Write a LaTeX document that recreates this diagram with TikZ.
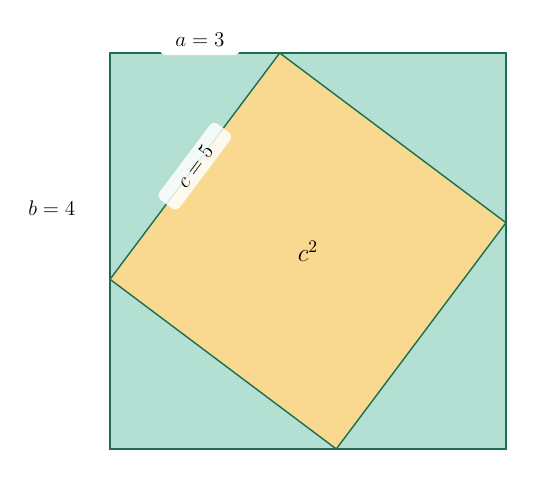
\documentclass[tikz,border=0pt]{standalone}
\usepackage{amsmath,amssymb}
\usepackage{xcolor}
\usepackage{tikz}
\usetikzlibrary{positioning}
\definecolor{legfill}{RGB}{179,224,211}
\definecolor{edgegreen}{RGB}{28,110,82}
\definecolor{hypfill}{RGB}{248,217,143}
\tikzset{
  sidelabel/.style={font=\fontsize{11.5}{13}\selectfont},
  tag/.style={sidelabel, fill=white, rounded corners=3pt}
}

\begin{document}
\begin{tikzpicture}[x=1.1314cm,y=1.1314cm]
\useasboundingbox (-2.2cm,-0.62cm) rectangle (9cm,8.98cm);
% Corners of the big square, side a+b
\coordinate (sw) at (0,0);
\coordinate (ne) at (7,7);
% Corners of the tilted square on c
\coordinate (top) at (3,7);
\coordinate (right) at (7,4);
\coordinate (bottom) at (4,0);
\coordinate (left) at (0,3);

% Big square
\draw[edgegreen, line width=0.8pt, fill=legfill] (sw) rectangle (ne);
% Square on the hypotenuse
\draw[edgegreen, line width=0.8pt, fill=hypfill] (top) -- (right) -- (bottom) -- (left) -- cycle;

% Side labels
\node[tag, minimum width=1.6cm, minimum height=0.6cm] (alabel) at (1.59,7.23) {$a=3$};
\node[sidelabel] (blabel) at (-1.03,4.26) {$b=4$};
\path (left) -- (top) node[midway, sloped, tag, fill opacity=0.85, text opacity=1,
  minimum width=1.9cm, minimum height=0.5cm] (clabel) {$c=5$};
\node[font=\Large] (area) at (3.5,3.5) {$c^2$};

\end{tikzpicture}
\end{document}
